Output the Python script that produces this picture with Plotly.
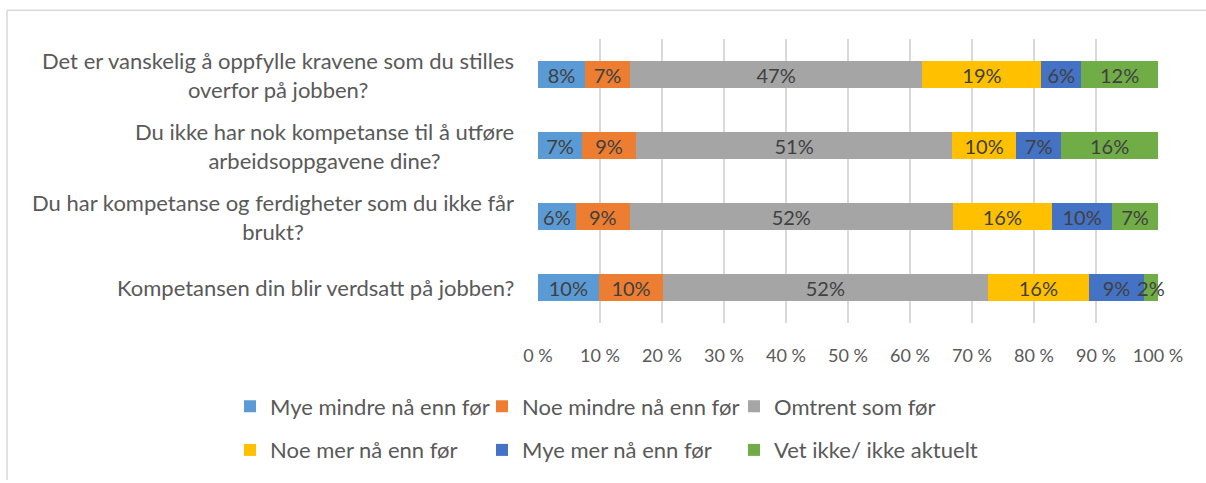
import plotly.graph_objects as go

# Survey questions (top to bottom)
questions = [
    "Det er vanskelig å oppfylle kravene som du stilles<br>overfor på jobben?",
    "Du ikke har nok kompetanse til å utføre<br>arbeidsoppgavene dine?",
    "Du har kompetanse og ferdigheter som du ikke får<br>brukt?",
    "Kompetansen din blir verdsatt på jobben?",
]

# Share of responses per answer option (percent), same order as questions
mye_mindre = [7.6, 7.1, 6.1, 9.8]
noe_mindre = [7.2, 8.7, 8.7, 10.4]
omtrent = [47.2, 51.0, 52.1, 52.3]
noe_mer = [19.2, 10.3, 16.0, 16.4]
mye_mer = [6.4, 7.3, 9.7, 8.8]
vet_ikke = [12.4, 15.6, 7.4, 2.3]

series_names = [
    "Mye mindre nå enn før",
    "Noe mindre nå enn før",
    "Omtrent som før",
    "Noe mer nå enn før",
    "Mye mer nå enn før",
    "Vet ikke/ ikke aktuelt",
]
series_values = [mye_mindre, noe_mindre, omtrent, noe_mer, mye_mer, vet_ikke]
colors = ["#5B9BD5", "#ED7D31", "#A5A5A5", "#FFC000", "#4472C4", "#70AD47"]

tick_vals = [0, 10, 20, 30, 40, 50, 60, 70, 80, 90, 100]
tick_text = ["0 %", "10 %", "20 %", "30 %", "40 %", "50 %",
             "60 %", "70 %", "80 %", "90 %", "100 %"]

FONT = "Lato, 'Open Sans', sans-serif"

fig = go.Figure()
for i, (name, vals, col) in enumerate(zip(series_names, series_values, colors)):
    fig.add_trace(go.Bar(
        y=questions,
        x=vals,
        name=name,
        orientation="h",
        marker=dict(color=col, line=dict(width=0)),
        texttemplate="%{x:.0f}%",
        textposition="inside",
        insidetextanchor="middle",
        textangle=0,
        constraintext="none",
        cliponaxis=False,
        textfont=dict(family=FONT, size=20, color="#404040"),
        legend="legend" if i < 3 else "legend2",
    ))

L, R, T, B = 538, 48, 39, 158
W, H = 1206, 483
pw, ph = W - L - R, H - T - B

legend_common = dict(
    orientation="h",
    xanchor="left",
    yanchor="middle",
    x=(230 - L) / pw,
    entrywidth=207,
    entrywidthmode="pixels",
    font=dict(family=FONT, size=22, color="#595959"),
    bgcolor="rgba(0,0,0,0)",
    itemclick=False,
    itemdoubleclick=False,
    traceorder="normal",
)

# Question labels, centred line by line and right-aligned against the plot
annotations = [
    dict(text=q, xref="paper", yref="y", x=(516 - L) / pw, y=q,
         xanchor="right", yanchor="middle", align="center", showarrow=False,
         font=dict(family=FONT, size=22, color="#595959"))
    for q in questions
]

fig.update_layout(
    width=W,
    height=H,
    margin=dict(l=L, r=R, t=T, b=B),
    barmode="stack",
    bargap=0.61,
    plot_bgcolor="white",
    paper_bgcolor="white",
    font=dict(family=FONT, color="#595959"),
    legend=dict(**legend_common, y=(H - B - 409) / ph),
    legend2=dict(**legend_common, y=(H - B - 453) / ph),
    annotations=annotations,
    xaxis=dict(
        range=[0, 100.001],
        tickvals=tick_vals,
        ticktext=tick_text,
        showgrid=True,
        gridcolor="#D9D9D9",
        gridwidth=1.5,
        zeroline=False,
        showline=False,
        ticks="",
        ticklabelstandoff=20,
        tickfont=dict(family=FONT, size=18, color="#595959"),
        fixedrange=True,
    ),
    yaxis=dict(
        autorange="reversed",
        showgrid=False,
        showline=False,
        ticks="",
        showticklabels=False,
        fixedrange=True,
    ),
    shapes=[
        # chart-area frame (left and top edges)
        dict(type="line", xref="paper", yref="paper",
             x0=(7 - L) / pw, x1=(7 - L) / pw, y0=(H - B - 10) / ph, y1=(H - B - H) / ph,
             line=dict(color="#D9D9D9", width=1.5)),
        dict(type="line", xref="paper", yref="paper",
             x0=(7 - L) / pw, x1=(W - L) / pw, y0=(H - B - 10) / ph, y1=(H - B - 10) / ph,
             line=dict(color="#D9D9D9", width=1.5)),
    ],
)

fig.write_html("out.html")
